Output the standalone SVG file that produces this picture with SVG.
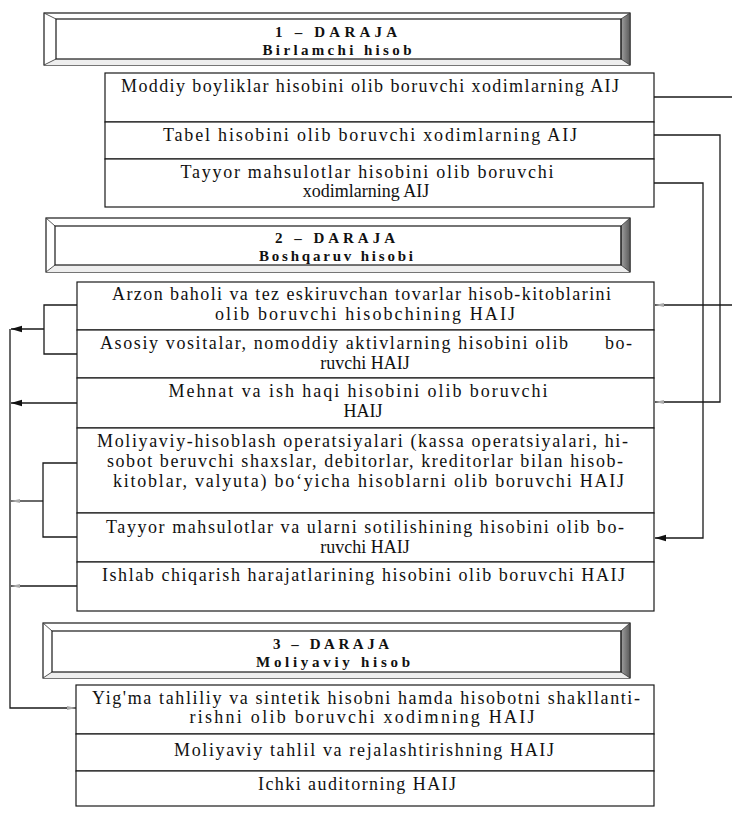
<svg xmlns="http://www.w3.org/2000/svg" width="732" height="817" viewBox="0 0 732 817">
  <style>
    .bg { fill: #ffffff; }
    .row { fill: #ffffff; stroke: #1a1a1a; stroke-width: 1.2; }
    .t { font-family: "Liberation Serif", "Times New Roman", serif; font-size: 18px; fill: #111; text-anchor: middle; }
    .tl { font-family: "Liberation Serif", "Times New Roman", serif; font-size: 18px; fill: #111; }
    .h { font-family: "Liberation Serif", "Times New Roman", serif; font-size: 15px; font-weight: bold; fill: #111; text-anchor: middle; }
    .frame { fill: #ffffff; stroke: #1a1a1a; stroke-width: 1.2; }
    .inner { fill: none; stroke: #1a1a1a; stroke-width: 1.2; }
    .bevel-r { fill: url(#bevelGrad); stroke: #333; stroke-width: 0.8; }
    .bevel-b { fill: #eeeeee; stroke: none; }
    .diag { stroke: #444; stroke-width: 0.9; }
    .wire { fill: none; stroke: #1a1a1a; stroke-width: 1.3; }
  </style>
  <defs>
    <linearGradient id="bevelGrad" x1="0" y1="0" x2="1" y2="0">
      <stop offset="0" stop-color="#a0a0a0"/>
      <stop offset="1" stop-color="#5a5a5a"/>
    </linearGradient>
    <marker id="arrowSolid" markerUnits="userSpaceOnUse" markerWidth="12" markerHeight="8" refX="11" refY="4" orient="auto">
      <path d="M0,0.8 L11,4 L0,7.2 z" fill="#111"/>
    </marker>
    <marker id="arrowFaint" markerUnits="userSpaceOnUse" markerWidth="10" markerHeight="6" refX="9" refY="3" orient="auto">
      <path d="M0,1 L9,3 L0,5 z" fill="#aaaaaa"/>
    </marker>
  </defs>

  <rect class="bg" x="0" y="0" width="732" height="817"/>

  <!-- Level 1 header -->
  <g id="level1-header">
    <rect class="frame" x="44" y="13" width="586" height="52"/>
    <polygon class="bevel-b" points="56,59 620,59 630,65 44,65"/>
    <polygon class="bevel-r" points="621,19 630,13 630,65 621,59"/>
    <line class="diag" x1="44" y1="13" x2="56" y2="19"/>
    <line class="diag" x1="44" y1="65" x2="56" y2="59"/>
    <rect class="inner" x="56" y="19" width="565" height="40"/>
    <text class="h" x="336" y="37" textLength="122" lengthAdjust="spacing">1 – DARAJA</text>
    <text class="h" x="337" y="55" textLength="149" lengthAdjust="spacing">Birlamchi hisob</text>
  </g>

  <!-- Level 1 items -->
  <g id="l1-moddiy">
    <rect class="row" x="105" y="73" width="549" height="49"/>
    <text class="t" x="370" y="92" textLength="498" lengthAdjust="spacing">Moddiy boyliklar hisobini olib boruvchi xodimlarning AIJ</text>
  </g>
  <g id="l1-tabel">
    <rect class="row" x="105" y="122" width="549" height="37"/>
    <text class="t" x="370" y="141" textLength="414" lengthAdjust="spacing">Tabel hisobini olib boruvchi xodimlarning AIJ</text>
  </g>
  <g id="l1-tayyor">
    <rect class="row" x="105" y="159" width="549" height="48"/>
    <text class="t" x="367" y="178" textLength="373" lengthAdjust="spacing">Tayyor mahsulotlar hisobini olib boruvchi</text>
    <text class="t" x="366" y="197">xodimlarning AIJ</text>
  </g>

  <!-- Level 2 header -->
  <g id="level2-header">
    <rect class="frame" x="46" y="218" width="584" height="54"/>
    <polygon class="bevel-b" points="55,265 621,265 630,272 46,272"/>
    <polygon class="bevel-r" points="621,226 630,218 630,272 621,265"/>
    <line class="diag" x1="46" y1="218" x2="55" y2="226"/>
    <line class="diag" x1="46" y1="272" x2="55" y2="265"/>
    <rect class="inner" x="55" y="226" width="566" height="39"/>
    <text class="h" x="335" y="243" textLength="120" lengthAdjust="spacing">2 – DARAJA</text>
    <text class="h" x="336" y="261" textLength="154" lengthAdjust="spacing">Boshqaruv hisobi</text>
  </g>

  <!-- Level 2 items -->
  <g id="l2-arzon">
    <rect class="row" x="77" y="282" width="577" height="48"/>
    <text class="t" x="361.5" y="300" textLength="499" lengthAdjust="spacing">Arzon baholi va tez eskiruvchan tovarlar hisob-kitoblarini</text>
    <text class="t" x="365" y="320" textLength="300" lengthAdjust="spacing">olib boruvchi hisobchining HAIJ</text>
  </g>
  <g id="l2-asosiy">
    <rect class="row" x="77" y="330" width="577" height="48"/>
    <text class="tl" x="100" y="349" textLength="468" lengthAdjust="spacing">Asosiy vositalar, nomoddiy aktivlarning hisobini olib</text>
    <text class="tl" x="605" y="349" textLength="27" lengthAdjust="spacing">bo-</text>
    <text class="t" x="365" y="369">ruvchi HAIJ</text>
  </g>
  <g id="l2-mehnat">
    <rect class="row" x="77" y="378" width="577" height="50"/>
    <text class="t" x="358" y="397" textLength="379" lengthAdjust="spacing">Mehnat va ish haqi hisobini olib boruvchi</text>
    <text class="t" x="363" y="417">HAIJ</text>
  </g>
  <g id="l2-moliyaviy">
    <rect class="row" x="77" y="428" width="577" height="85"/>
    <text class="t" x="362.5" y="447" textLength="531" lengthAdjust="spacing">Moliyaviy-hisoblash operatsiyalari (kassa operatsiyalari, hi-</text>
    <text class="t" x="365" y="467" textLength="516" lengthAdjust="spacing">sobot beruvchi shaxslar, debitorlar, kreditorlar bilan hisob-</text>
    <text class="t" x="368.5" y="487" textLength="511" lengthAdjust="spacing">kitoblar, valyuta) bo‘yicha hisoblarni olib boruvchi HAIJ</text>
  </g>
  <g id="l2-tayyor">
    <rect class="row" x="77" y="513" width="577" height="49"/>
    <text class="t" x="365" y="533" textLength="518" lengthAdjust="spacing">Tayyor mahsulotlar va ularni sotilishining hisobini olib bo-</text>
    <text class="t" x="365" y="553">ruvchi HAIJ</text>
  </g>
  <g id="l2-ishlab">
    <rect class="row" x="77" y="562" width="577" height="49"/>
    <text class="t" x="363.5" y="581" textLength="523" lengthAdjust="spacing">Ishlab chiqarish harajatlarining hisobini olib boruvchi HAIJ</text>
  </g>

  <!-- Level 3 header -->
  <g id="level3-header">
    <rect class="frame" x="43" y="623" width="587" height="55"/>
    <polygon class="bevel-b" points="52,672 621,672 630,678 43,678"/>
    <polygon class="bevel-r" points="621,631 630,623 630,678 621,672"/>
    <line class="diag" x1="43" y1="623" x2="52" y2="631"/>
    <line class="diag" x1="43" y1="678" x2="52" y2="672"/>
    <rect class="inner" x="52" y="631" width="569" height="41"/>
    <text class="h" x="331" y="649" textLength="116" lengthAdjust="spacing">3 – DARAJA</text>
    <text class="h" x="333" y="667" textLength="154" lengthAdjust="spacing">Moliyaviy  hisob</text>
  </g>

  <!-- Level 3 items -->
  <g id="l3-yigma">
    <rect class="row" x="76" y="685" width="578" height="49"/>
    <text class="t" x="366" y="704" textLength="548" lengthAdjust="spacing">Yig'ma tahliliy va sintetik hisobni hamda hisobotni shakllanti-</text>
    <text class="t" x="362" y="723" textLength="345" lengthAdjust="spacing">rishni olib boruvchi xodimning HAIJ</text>
  </g>
  <g id="l3-tahlil">
    <rect class="row" x="76" y="734" width="578" height="37"/>
    <text class="t" x="364" y="756" textLength="380" lengthAdjust="spacing">Moliyaviy tahlil va rejalashtirishning HAIJ</text>
  </g>
  <g id="l3-audit">
    <rect class="row" x="76" y="771" width="578" height="35"/>
    <text class="t" x="357" y="790" textLength="198" lengthAdjust="spacing">Ichki auditorning HAIJ</text>
  </g>

  <!-- Connectors -->
  <g id="connectors">
    <!-- right side: level 1 to level 2 -->
    <path class="wire" d="M654,97 H732"/>
    <path class="wire" d="M732,305 H655" marker-end="url(#arrowFaint)"/>
    <path class="wire" d="M654,135 H720 V402 H655" marker-end="url(#arrowFaint)"/>
    <path class="wire" d="M654,183 H703 V538 H655" marker-end="url(#arrowSolid)"/>
    <!-- left side: level 2 to level 3 -->
    <path class="wire" d="M77,305 H44 V354 H77"/>
    <path class="wire" d="M44,329 H11" marker-end="url(#arrowSolid)"/>
    <path class="wire" d="M77,403 H11" marker-end="url(#arrowSolid)"/>
    <path class="wire" d="M77,463 H43 V537 H77"/>
    <path class="wire" d="M43,501 H11" marker-end="url(#arrowFaint)"/>
    <path class="wire" d="M77,586 H11" marker-end="url(#arrowFaint)"/>
    <path class="wire" d="M10,329 V708 H76" marker-end="url(#arrowFaint)"/>
  </g>
</svg>
